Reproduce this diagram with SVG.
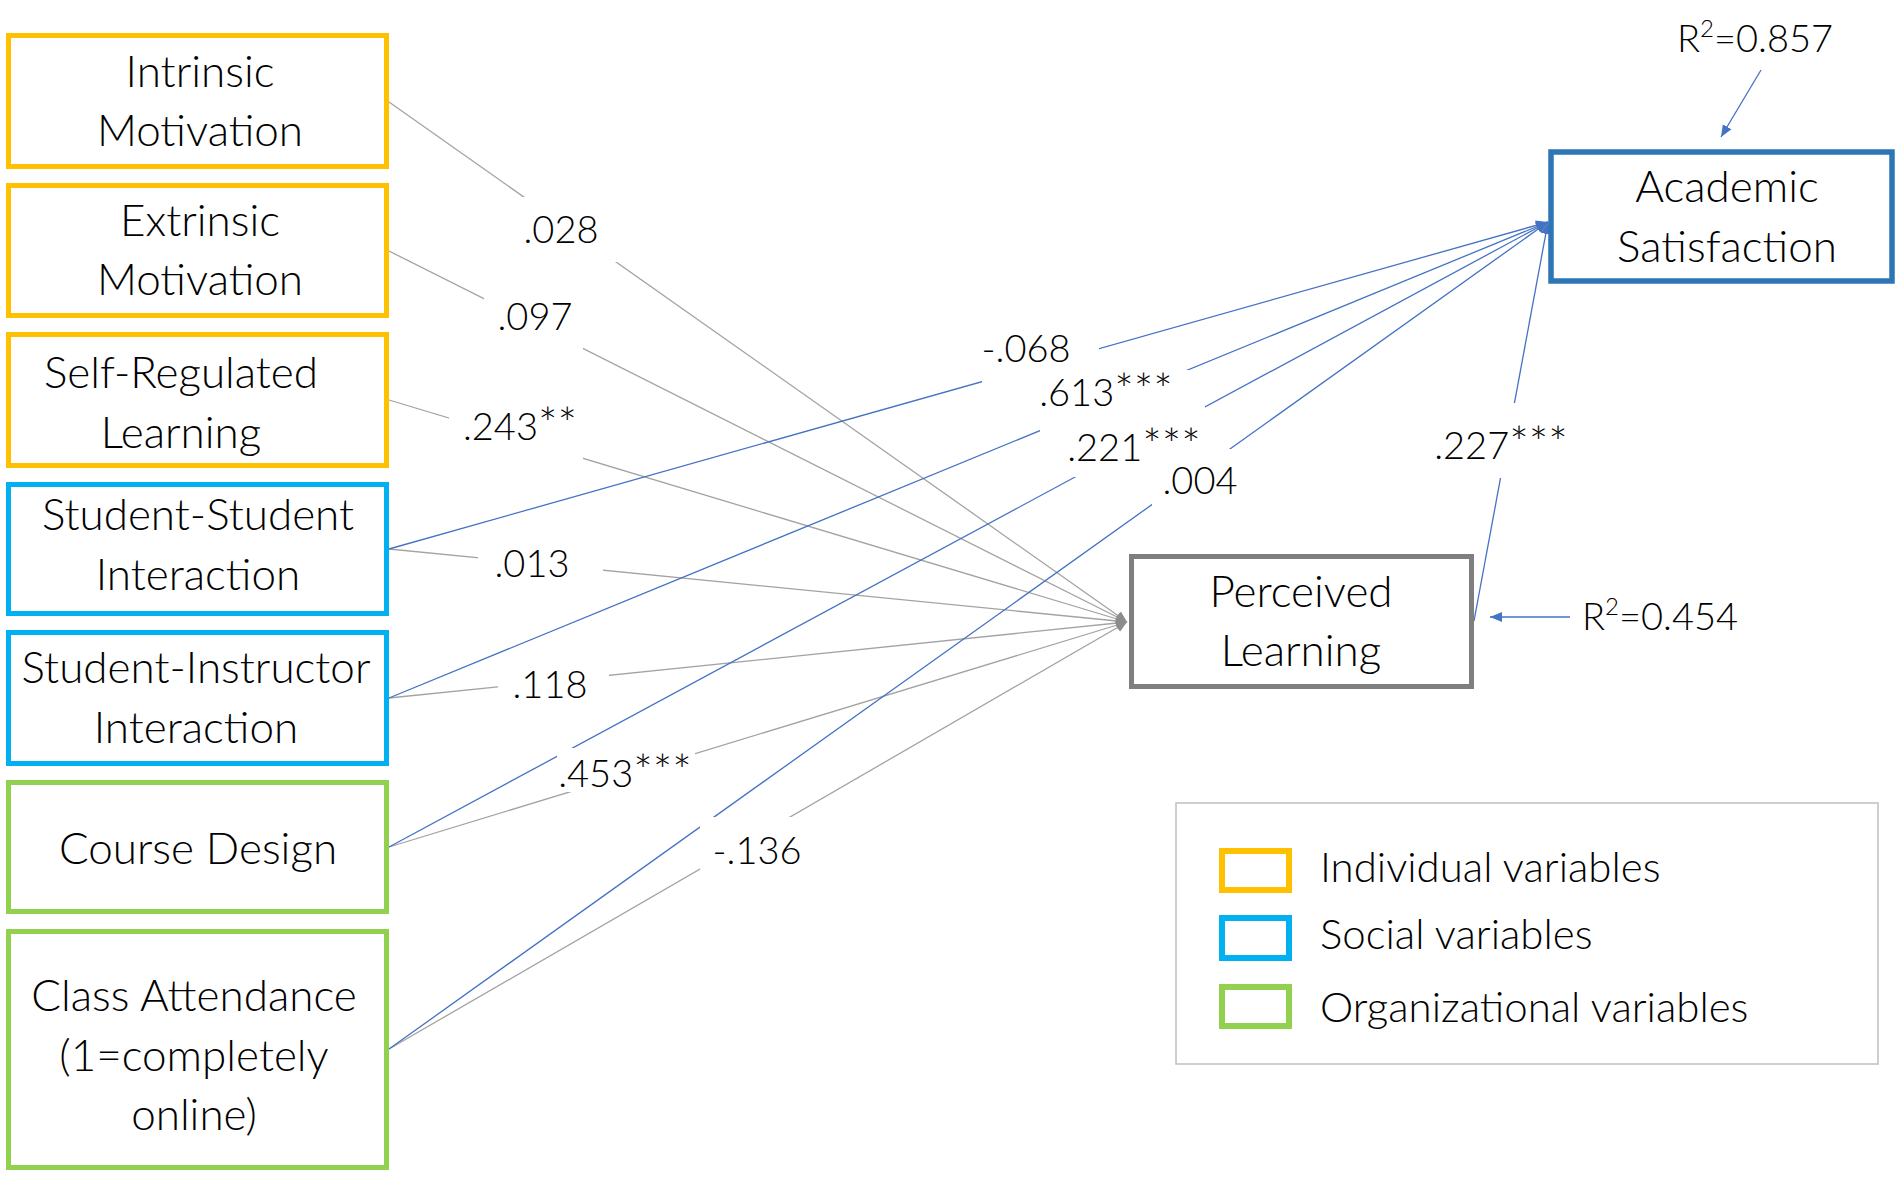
<svg xmlns="http://www.w3.org/2000/svg" width="1902" height="1177" viewBox="0 0 1902 1177">
<defs>
<style>
.t{font-family:Lato,"Liberation Sans",sans-serif;font-weight:300;font-size:44px;fill:#000;text-anchor:middle}
.lb{font-family:Lato,"Liberation Sans",sans-serif;font-weight:300;font-size:38px;fill:#000;text-anchor:middle}
.lg{font-family:Lato,"Liberation Sans",sans-serif;font-weight:300;font-size:42px;fill:#000}
.st{font-size:46px}
.ind{fill:#fff;stroke:#FFC000;stroke-width:5}
.soc{fill:#fff;stroke:#00B0F0;stroke-width:5}
.org{fill:#fff;stroke:#92D050;stroke-width:5}
.g{stroke:#A3A3A3;stroke-width:1.3;fill:none;marker-end:url(#mg)}
.b{stroke:#4472C4;stroke-width:1.3;fill:none;marker-end:url(#mb)}
.bx{fill:#fff;stroke:none}
</style>
<marker id="mg" markerUnits="userSpaceOnUse" markerWidth="12" markerHeight="16" refX="11" refY="8" orient="auto">
<path d="M0,3 L11,8 L0,13 Z" fill="#8C8C8C"/>
</marker>
<marker id="mb" markerUnits="userSpaceOnUse" markerWidth="14" markerHeight="14" refX="12" refY="7" orient="auto">
<path d="M0,2 L12,7 L0,12 Z" fill="#4472C4"/>
</marker>
</defs>
<rect width="1902" height="1177" fill="#fff"/>

<g id="connectors">
<line class="g" x1="389" y1="102" x2="1127" y2="622"/>
<line class="g" x1="389" y1="251" x2="1127" y2="622"/>
<line class="g" x1="389" y1="400" x2="1127" y2="622"/>
<line class="g" x1="389" y1="549" x2="1127" y2="622"/>
<line class="g" x1="389" y1="698" x2="1127" y2="622"/>
<line class="g" x1="389" y1="847" x2="1127" y2="622"/>
<line class="g" x1="389" y1="1049" x2="1127" y2="622"/>
<line class="b" x1="389" y1="549" x2="1548" y2="222"/>
<line class="b" x1="389" y1="698" x2="1548" y2="222"/>
<line class="b" x1="389" y1="847" x2="1548" y2="222"/>
<line class="b" x1="389" y1="1049" x2="1548" y2="222"/>
<line class="b" x1="1474" y1="621" x2="1548" y2="222"/>
<line class="b" x1="1761" y1="70" x2="1721" y2="137"/>
<line class="b" x1="1570" y1="617" x2="1490" y2="617"/>
</g>

<g id="labels">
<rect class="bx" x="522" y="197" width="96" height="65"/>
<rect class="bx" x="484" y="290" width="99" height="62"/>
<rect class="bx" x="449" y="408" width="134" height="55"/>
<rect class="bx" x="478" y="542" width="125" height="48"/>
<rect class="bx" x="498" y="662" width="111" height="48"/>
<rect class="bx" x="557" y="748" width="138" height="44"/>
<rect class="bx" x="700" y="817" width="105" height="58"/>
<rect class="bx" x="982" y="333" width="117" height="56"/>
<rect class="bx" x="1040" y="370" width="152" height="65"/>
<rect class="bx" x="1062" y="405" width="143" height="72"/>
<rect class="bx" x="1152" y="449" width="88" height="58"/>
<rect class="bx" x="1418" y="403" width="157" height="75"/>
<text class="lb" x="561" y="243">.028</text>
<text class="lb" x="535" y="330">.097</text>
<text class="lb" x="520" y="440">.243<tspan class="st">**</tspan></text>
<text class="lb" x="532" y="577">.013</text>
<text class="lb" x="550" y="698">.118</text>
<text class="lb" x="625" y="787">.453<tspan class="st">***</tspan></text>
<text class="lb" x="757" y="864">-.136</text>
<text class="lb" x="1026" y="362">-.068</text>
<text class="lb" x="1106" y="406">.613<tspan class="st">***</tspan></text>
<text class="lb" x="1134" y="461">.221<tspan class="st">***</tspan></text>
<text class="lb" x="1200" y="494">.004</text>
<text class="lb" x="1501" y="459">.227<tspan class="st">***</tspan></text>
<text class="lb" x="1755" y="52">R<tspan font-size="24" dy="-15">2</tspan><tspan dy="15">=0.857</tspan></text>
<text class="lb" x="1660" y="630">R<tspan font-size="24" dy="-15">2</tspan><tspan dy="15">=0.454</tspan></text>
</g>

<g id="intrinsic-motivation">
<rect class="ind" x="8.5" y="35.5" width="378" height="131"/>
<text class="t" x="200" y="87">Intrinsic</text>
<text class="t" x="200" y="146">Motivation</text>
</g>
<g id="extrinsic-motivation">
<rect class="ind" x="8.5" y="185.5" width="378" height="130"/>
<text class="t" x="200" y="236">Extrinsic</text>
<text class="t" x="200" y="295">Motivation</text>
</g>
<g id="self-regulated-learning">
<rect class="ind" x="8.5" y="334.5" width="378" height="131"/>
<text class="t" x="181" y="388">Self-Regulated</text>
<text class="t" x="181" y="448">Learning</text>
</g>
<g id="student-student-interaction">
<rect class="soc" x="8.5" y="484.5" width="378" height="129"/>
<text class="t" x="198" y="530">Student-Student</text>
<text class="t" x="198" y="590">Interaction</text>
</g>
<g id="student-instructor-interaction">
<rect class="soc" x="8.5" y="632.5" width="378" height="131"/>
<text class="t" x="196" y="683">Student-Instructor</text>
<text class="t" x="196" y="743">Interaction</text>
</g>
<g id="course-design">
<rect class="org" x="8.5" y="782.5" width="378" height="129"/>
<text class="t" x="198" y="864">Course Design</text>
</g>
<g id="class-attendance">
<rect class="org" x="8.5" y="931.5" width="378" height="236"/>
<text class="t" x="194" y="1011">Class Attendance</text>
<text class="t" x="194" y="1071">(1=completely</text>
<text class="t" x="194" y="1130">online)</text>
</g>
<g id="perceived-learning">
<rect x="1131.5" y="556.5" width="340" height="130" fill="#fff" stroke="#7F7F7F" stroke-width="5"/>
<text class="t" x="1301" y="607">Perceived</text>
<text class="t" x="1301" y="666">Learning</text>
</g>
<g id="academic-satisfaction">
<rect x="1551" y="152" width="341" height="129" fill="#fff" stroke="#2E75B6" stroke-width="5.5"/>
<text class="t" x="1727" y="202">Academic</text>
<text class="t" x="1727" y="262">Satisfaction</text>
</g>
<g id="legend">
<rect x="1176" y="803" width="702" height="261" fill="#fff" stroke="#BFBFBF" stroke-width="1.5"/>
<rect x="1222" y="851" width="67" height="39" fill="#fff" stroke="#FFC000" stroke-width="6"/>
<rect x="1222" y="918" width="67" height="40" fill="#fff" stroke="#00B0F0" stroke-width="6"/>
<rect x="1222" y="987" width="67" height="39" fill="#fff" stroke="#92D050" stroke-width="6"/>
<text class="lg" x="1320" y="882">Individual variables</text>
<text class="lg" x="1320" y="949">Social variables</text>
<text class="lg" x="1320" y="1022">Organizational variables</text>
</g>
</svg>
